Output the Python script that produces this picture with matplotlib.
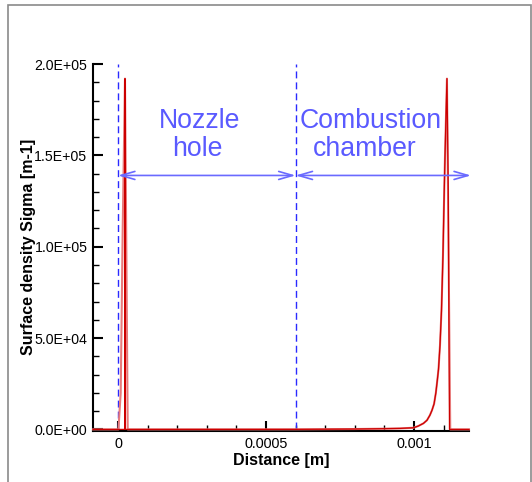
import matplotlib
matplotlib.use("Agg")
import matplotlib.pyplot as plt
from matplotlib.patches import Rectangle, FancyArrowPatch, ArrowStyle
from matplotlib.ticker import MultipleLocator, FixedLocator

plt.rcParams['font.family'] = ['Liberation Sans', 'DejaVu Sans']

# ---- data ----
XMIN, XMAX = -0.0000845, 0.001186
tail_x = [0.0006, 0.0008, 0.0009, 0.000953, 0.000998, 0.001014, 0.001032, 0.001044,
          0.001054, 0.001061, 0.001068, 0.001074, 0.001079, 0.001083, 0.001088,
          0.001093, 0.001098, 0.0011024, 0.001105]
tail_y = [30, 200, 400, 550, 900, 1800, 3300, 5000,
          7800, 10500, 14000, 20000, 27000, 33000, 46000,
          65000, 95000, 131000, 150000]
# dark (fine) profile
dark_x = [XMIN, 0.0000230, 0.0000236, 0.0000245] + tail_x + [0.0011115, 0.0011159, 0.0011200, XMAX]
dark_y = [0, 0, 192000, 0] + tail_y + [192000, 131000, 0, 0]
# light (coarse) profile
light_x = [XMIN, 0.0000015, 0.0000045, 0.0000091, 0.0000159, 0.0000236, 0.0000328] + tail_x + \
          [0.0011115, 0.0011226, XMAX]
light_y = [0, 0, 8000, 20000, 110000, 192000, 0] + tail_y + [192000, 0, 0]

boundaries = [0.0, 0.0006]
arrow_y = 139000
arrow_end = 0.0011926
label_lines = [["Nozzle", "hole"], ["Combustion", "chamber"]]
label_line_x = [[0.0002772, 0.0002694], [0.0008542, 0.0008350]]
label_line_y = [164800, 149650]

xticks = [0, 0.0005, 0.001]
xtick_labels = ["0", "0.0005", "0.001"]
yticks = [0, 50000, 100000, 150000, 200000]
ytick_labels = ["0.0E+00", "5.0E+04", "1.0E+05", "1.5E+05", "2.0E+05"]

# ---- figure ----
W, H = 532, 482
fig = plt.figure(figsize=(W / 100, H / 100), dpi=100)
fig.patches.append(Rectangle((8 / W, -0.02), (531 - 8) / W, 1.02 - 5 / H,
                             transform=fig.transFigure, fill=False,
                             edgecolor='#8a8a8a', lw=1.2))

ax = fig.add_axes([93 / W, 1 - 430.5 / H, (469 - 93) / W, (430.5 - 64) / H])
ax.set_xlim(XMIN, XMAX)
ax.set_ylim(-600, 200000)

ax.plot(light_x, light_y, color='#e87a7a', lw=1.5, zorder=3, clip_on=False)
ax.plot(dark_x, dark_y, color='#cc0000', lw=0.9, zorder=4, clip_on=False)

for b in boundaries:
    ax.plot([b, b], [0, 200000], color='#2a2aff', lw=1.0,
            linestyle=(0, (5.0, 2.9)), zorder=2)

style = ArrowStyle('<->', head_length=10, head_width=2.9)
for x0, x1 in [(boundaries[0], boundaries[1]), (boundaries[1], arrow_end)]:
    ar = FancyArrowPatch((x0, arrow_y), (x1, arrow_y), arrowstyle=style,
                         mutation_scale=1, color='#6a6aff', lw=1.2,
                         shrinkA=0, shrinkB=0, clip_on=False, zorder=5)
    ax.add_patch(ar)

for lines, xs in zip(label_lines, label_line_x):
    for t, lx, ly in zip(lines, xs, label_line_y):
        ax.text(lx, ly, t, color='#5a5aff', fontsize=19.2, ha='center',
                va='baseline')

for s in ['top', 'right']:
    ax.spines[s].set_visible(False)
ax.spines['left'].set_linewidth(1.5)
ax.spines['bottom'].set_linewidth(1.5)

ax.xaxis.set_major_locator(FixedLocator(xticks))
ax.set_xticklabels(xtick_labels)
ax.xaxis.set_minor_locator(MultipleLocator(0.0001))
ax.yaxis.set_major_locator(FixedLocator(yticks))
ax.set_yticklabels(ytick_labels)
ax.yaxis.set_minor_locator(MultipleLocator(10000))

ax.tick_params(axis='both', which='major', direction='in', length=7, width=1.5,
               colors='black')
ax.tick_params(axis='both', which='minor', direction='in', length=4.5, width=1.0)
ax.tick_params(axis='x', labelsize=10.4, pad=5)
ax.tick_params(axis='y', labelsize=10.2, pad=4)

ax.set_xlabel("Distance [m]", fontsize=11.5, fontweight='bold', labelpad=1)
ax.set_ylabel("Surface density Sigma [m-1]", fontsize=11.5, fontweight='bold',
              labelpad=-1)

fig.savefig("out.png", dpi=100)
